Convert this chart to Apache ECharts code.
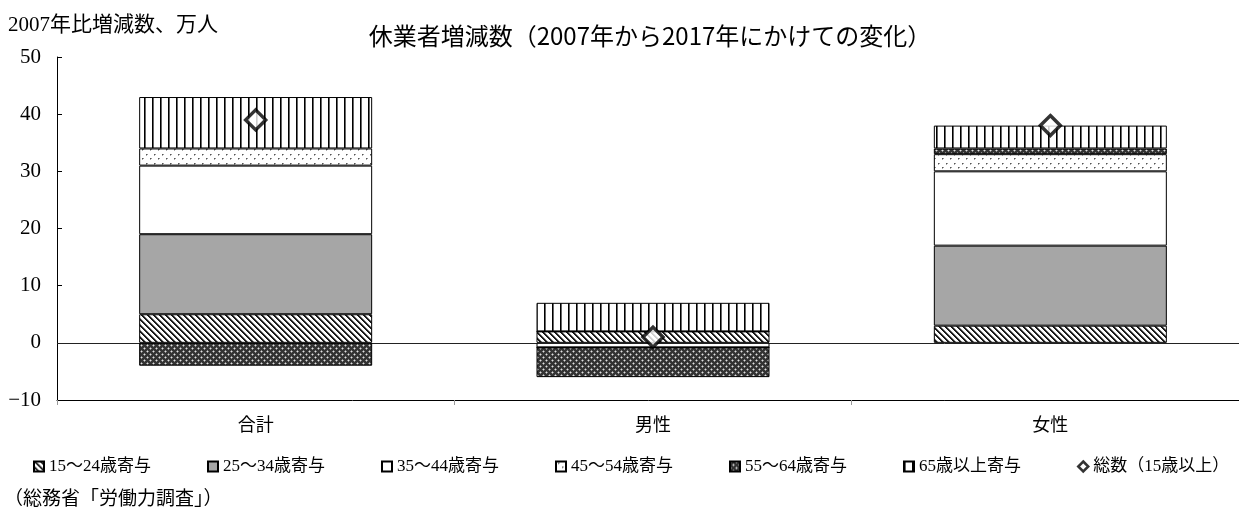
<!DOCTYPE html>
<html lang="ja">
<head>
<meta charset="utf-8">
<title>休業者増減数</title>
<script src="https://cdn.jsdelivr.net/npm/echarts@6/dist/echarts.min.js"></script>
<style>
  html, body { margin: 0; padding: 0; background: #fff; }
  #chart { width: 1239px; height: 518px; }
</style>
</head>
<body>
<div id="chart"></div>
<script>
// 休業者数の2007年比増減（万人）と年齢階級別の寄与
const categories = ['合計', '男性', '女性'];
const age15to24 = [5, 2, 3];
const age25to34 = [14, 0, 14];
const age35to44 = [12, -0.8, 13];
const age45to54 = [3, 0, 3];
const age55to64 = [-4, -5.2, 1];
const age65plus = [9, 5, 4];
const totalChange = [39, 1, 38];
const seriesNames = ['15～24歳寄与', '25～34歳寄与', '35～44歳寄与', '45～54歳寄与', '55～64歳寄与', '65歳以上寄与', '総数（15歳以上）'];
const titleText = '休業者増減数（2007年から2017年にかけての変化）';
const yAxisTitle = '2007年比増減数、万人';
const sourceNote = '（総務省「労働力調査」）';

const SERIF = "'Liberation Serif', 'Noto Sans CJK JP', serif";
const SANS = "'Noto Sans CJK JP', sans-serif";

// small repeating tiles used as hatch fills
function tile(w, h, paint) {
  const c = document.createElement('canvas');
  c.width = w; c.height = h;
  const ctx = c.getContext('2d');
  ctx.fillStyle = '#fff';
  ctx.fillRect(0, 0, w, h);
  paint(ctx);
  return { image: c, repeat: 'repeat' };
}
function px(ctx, x, y, col) { ctx.fillStyle = col; ctx.fillRect(x, y, 1, 1); }

const fillDiagonal = tile(6, 6, ctx => {
  for (let y = 0; y < 6; y++) for (let x = 0; x < 6; x++) {
    const d = ((x - y) % 6 + 6) % 6;
    if (d === 0 || d === 1) px(ctx, x, y, '#1a1a1a');
    else if (d === 2) px(ctx, x, y, '#8a8a8a');
  }
});
const fillGray = '#a6a6a6';
const fillWhite = '#ffffff';
const fillDots = tile(8, 9, ctx => {
  px(ctx, 2, 1, '#555'); px(ctx, 3, 1, '#999'); px(ctx, 2, 2, '#aaa');
  px(ctx, 6, 5, '#555'); px(ctx, 7, 5, '#999'); px(ctx, 6, 6, '#aaa');
});
const fillCross = tile(6, 6, ctx => {
  ctx.fillStyle = '#333'; ctx.fillRect(0, 0, 6, 6);
  px(ctx, 0, 0, '#e0e0e0'); px(ctx, 3, 3, '#e0e0e0');
  px(ctx, 1, 0, '#888'); px(ctx, 0, 1, '#888'); px(ctx, 5, 0, '#888'); px(ctx, 0, 5, '#888');
  px(ctx, 4, 3, '#888'); px(ctx, 3, 4, '#888'); px(ctx, 2, 3, '#888'); px(ctx, 3, 2, '#888');
});
const fillVertical = tile(8, 8, ctx => {
  ctx.fillStyle = '#000'; ctx.fillRect(0, 0, 1, 8);
  ctx.fillStyle = '#666'; ctx.fillRect(1, 0, 1, 8);
});

const fills = [fillDiagonal, fillGray, fillWhite, fillDots, fillCross, fillVertical];
const contributions = [age15to24, age25to34, age35to44, age45to54, age55to64, age65plus];

const barSeries = contributions.map((values, i) => ({
  name: seriesNames[i],
  type: 'bar',
  stack: 'age',
  barWidth: 233,
  data: values,
  itemStyle: { color: fills[i], borderColor: '#000', borderWidth: 1 },
  emphasis: { disabled: true },
  z: 2
}));
// baseline at zero
barSeries[0].markLine = {
  silent: true,
  symbol: 'none',
  label: { show: false },
  lineStyle: { color: '#222', width: 1, type: 'solid' },
  data: [{ yAxis: 0 }],
  z: 1
};

const legendItems = seriesNames.map((name, i) => (
  i < 6
    ? { name: name, icon: 'rect' }
    : { name: name, icon: 'diamond', itemStyle: { color: '#fff', borderColor: '#000', borderWidth: 2.5 } }
));

const chart = echarts.init(document.getElementById('chart'));
chart.setOption({
  animation: false,
  backgroundColor: '#fff',
  title: {
    text: titleText,
    left: 645,
    top: 19,
    textAlign: 'center',
    textStyle: { fontFamily: SANS, fontSize: 24, fontWeight: 'normal', color: '#000' }
  },
  legend: {
    left: 33,
    top: 458,
    width: 1206,
    padding: 0,
    itemWidth: 10,
    itemHeight: 10,
    itemGap: 56,
    data: legendItems,
    textStyle: { fontFamily: SERIF, fontSize: 17, color: '#000' },
    selectedMode: false
  },
  grid: { left: 57, width: 1192, top: 57, height: 343, outerBoundsMode: 'none' },
  xAxis: {
    type: 'category',
    data: categories,
    axisLine: { onZero: false, lineStyle: { color: '#000', width: 1 } },
    axisTick: { show: true, length: 5, lineStyle: { color: '#999' } },
    axisLabel: { fontFamily: SERIF, fontSize: 18, color: '#000', margin: 17 }
  },
  yAxis: {
    type: 'value',
    min: -10,
    max: 50,
    interval: 10,
    axisLine: { show: true, lineStyle: { color: '#000', width: 1 } },
    axisTick: { show: true, inside: true, length: 5, lineStyle: { color: '#000' } },
    splitLine: { show: false },
    axisLabel: {
      fontFamily: SERIF, fontSize: 21, color: '#000', margin: 16,
      formatter: v => (v < 0 ? '\u2212' + Math.abs(v) : String(v))
    }
  },
  graphic: [
    { type: 'text', left: 8, top: 15, style: { text: yAxisTitle, font: "21px " + SERIF, fill: '#000' } },
    { type: 'text', left: 4, top: 491, style: { text: sourceNote, font: "19px " + SERIF, fill: '#000' } }
  ],
  series: barSeries.concat([{
    name: seriesNames[6],
    type: 'scatter',
    data: totalChange,
    symbol: 'diamond',
    symbolSize: 20,
    itemStyle: { color: '#fff', borderColor: '#000', borderWidth: 3.5 },
    emphasis: { disabled: true },
    z: 5
  }])
});
</script>
</body>
</html>
